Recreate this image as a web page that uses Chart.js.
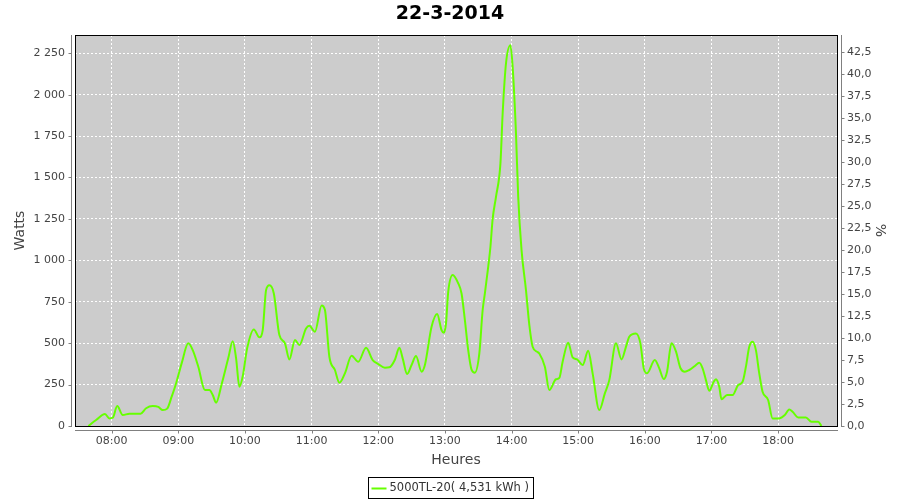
<!DOCTYPE html>
<html>
<head>
<meta charset="utf-8">
<title>22-3-2014</title>
<script src="https://cdn.jsdelivr.net/npm/chart.js@4/dist/chart.umd.min.js"></script>
<style>
  body { margin: 0; background: #fff; }
  #graphe { display: block; }
</style>
</head>
<body>
<canvas id="graphe" width="900" height="500"></canvas>
<script>
// Donnees
var titre = '22-3-2014';
var serieNom = '5000TL-20( 4,531 kWh )';

var heures = ['07:39','07:46','07:54','07:58','08:01','08:05','08:10','08:16','08:26','08:31',
  '08:37','08:42','08:46','08:50','08:54','08:58','09:03','09:09','09:13','09:18',
  '09:24','09:28','09:31','09:34','09:39','09:45','09:49','09:52','09:55','09:58',
  '10:02','10:08','10:13','10:16','10:19','10:22','10:26','10:31','10:36','10:40',
  '10:45','10:49','10:55','10:58','11:03','11:09','11:12','11:16','11:21','11:25',
  '11:30','11:36','11:42','11:49','11:55','12:00','12:06','12:10','12:15','12:19',
  '12:22','12:26','12:30','12:34','12:39','12:42','12:48','12:53','12:57','12:59',
  '13:01','13:03','13:07','13:12','13:15','13:18','13:21','13:24','13:27','13:31',
  '13:34','13:36','13:39','13:41','13:43','13:46','13:50','13:52','13:55','13:59',
  '14:01','14:04','14:06','14:09','14:13','14:16','14:19','14:23','14:25','14:30',
  '14:34','14:40','14:43','14:46','14:51','14:55','14:59','15:04','15:09','15:13',
  '15:19','15:24','15:28','15:34','15:39','15:43','15:46','15:52','15:56','15:59',
  '16:02','16:09','16:13','16:17','16:20','16:24','16:28','16:32','16:36','16:40',
  '16:45','16:49','16:52','16:55','16:58','17:02','17:04','17:07','17:09','17:14',
  '17:19','17:24','17:28','17:31','17:34','17:37','17:40','17:43','17:46','17:51',
  '17:55','18:01','18:06','18:10','18:13','18:18','18:25','18:30','18:36','18:39'];

var watts = [0, 36, 72, 46, 50, 120, 66, 74, 74, 107,
  120, 115, 96, 105, 177, 257, 378, 499, 458, 358,
  217, 217, 187, 141, 252, 410, 511, 410, 237, 300,
  470, 583, 535, 579, 820, 849, 800, 549, 499, 402,
  519, 489, 589, 605, 569, 728, 700, 418, 338, 261,
  318, 424, 388, 472, 398, 374, 352, 354, 400, 472,
  408, 314, 368, 422, 328, 368, 599, 676, 579, 563,
  620, 810, 911, 861, 800, 639, 458, 340, 322, 438,
  700, 800, 961, 1082, 1250, 1383, 1585, 1886, 2188, 2298,
  2167, 1766, 1383, 1062, 820, 610, 478, 448, 438, 358,
  217, 282, 290, 388, 503, 414, 402, 368, 454, 318,
  96, 197, 277, 499, 402, 478, 539, 559, 499, 348,
  318, 398, 348, 283, 328, 499, 450, 350, 328, 338,
  362, 382, 348, 277, 213, 267, 282, 237, 161, 187,
  187, 247, 267, 358, 478, 509, 458, 318, 207, 157,
  46, 46, 66, 100, 86, 52, 52, 26, 26, 0];

var ticksHeures = ['08:00','09:00','10:00','11:00','12:00','13:00','14:00','15:00','16:00','17:00','18:00'];
var ticksWatts = [0, 250, 500, 750, 1000, 1250, 1500, 1750, 2000, 2250];
var ticksPct = [0, 2.5, 5, 7.5, 10, 12.5, 15, 17.5, 20, 22.5, 25, 27.5, 30, 32.5, 35, 37.5, 40, 42.5];

var debut = '07:27', fin = '18:53';
var maxWatts = 2360, maxPct = 44.4;

var vert = '#66ff00';
var gris = '#444444';
var police = '"DejaVu Sans", sans-serif';

function enMinutes(h) {
    var p = h.split(':');
    return parseInt(p[0], 10) * 60 + parseInt(p[1], 10);
}
function enHeure(m) {
    var h = Math.floor(m / 60), mn = Math.round(m % 60);
    return (h < 10 ? '0' : '') + h + ':' + (mn < 10 ? '0' : '') + mn;
}

var points = heures.map(function(h, i) {
    return { x: enMinutes(h), y: watts[i] };
});

// Fond gris, cadre, axes decales et legende facon JFreeChart
var decor = {
    id: 'decor',
    beforeDraw: function(chart) {
        var a = chart.chartArea, ctx = chart.ctx;
        ctx.save();
        ctx.fillStyle = '#ffffff';
        ctx.fillRect(0, 0, chart.width, chart.height);
        ctx.fillStyle = '#cccccc';
        ctx.fillRect(a.left, a.top, a.right - a.left, a.bottom - a.top);
        ctx.restore();
    },
    afterDraw: function(chart) {
        var a = chart.chartArea, ctx = chart.ctx;
        var sx = chart.scales.x, sy = chart.scales.y, sp = chart.scales.y1;
        ctx.save();
        ctx.lineWidth = 1;
        ctx.strokeStyle = '#000000';
        ctx.strokeRect(Math.round(a.left) + 0.5, Math.round(a.top) + 0.5,
            Math.round(a.right - a.left), Math.round(a.bottom - a.top));

        ctx.strokeStyle = '#808080';
        ctx.beginPath();
        var xg = Math.round(a.left) - 3.5;
        ctx.moveTo(xg, a.top); ctx.lineTo(xg, a.bottom + 1);
        sy.ticks.forEach(function(t) {
            var y = Math.round(sy.getPixelForValue(t.value)) + 0.5;
            ctx.moveTo(xg - 3, y); ctx.lineTo(xg, y);
        });
        var xd = Math.round(a.right) + 4.5;
        ctx.moveTo(xd, a.top); ctx.lineTo(xd, a.bottom + 1);
        sp.ticks.forEach(function(t) {
            var y = Math.round(sp.getPixelForValue(t.value)) + 0.5;
            ctx.moveTo(xd, y); ctx.lineTo(xd + 3, y);
        });
        var yb = Math.round(a.bottom) + 4.5;
        ctx.moveTo(a.left, yb); ctx.lineTo(a.right + 1, yb);
        sx.ticks.forEach(function(t) {
            var x = Math.round(sx.getPixelForValue(t.value)) + 0.5;
            ctx.moveTo(x, yb); ctx.lineTo(x, yb + 3);
        });
        ctx.stroke();

        // legende
        ctx.font = '11.5px ' + police;
        var tw = ctx.measureText(serieNom).width;
        var bw = Math.round(tw + 26);
        var bx = Math.round((chart.width - bw) / 2) + 0.5;
        var by = 477.5, bh = 21;
        ctx.strokeStyle = '#000000';
        ctx.strokeRect(bx, by, bw, bh);
        ctx.strokeStyle = vert;
        ctx.lineWidth = 2;
        ctx.beginPath();
        ctx.moveTo(bx + 3, by + 11); ctx.lineTo(bx + 18, by + 11);
        ctx.stroke();
        ctx.fillStyle = '#333333';
        ctx.textBaseline = 'middle';
        ctx.fillText(serieNom, bx + 21, by + 11);
        ctx.restore();
    }
};

new Chart(document.getElementById('graphe'), {
    type: 'line',
    data: {
        datasets: [{
            label: serieNom,
            data: points,
            yAxisID: 'y',
            borderColor: vert,
            borderWidth: 2,
            pointRadius: 0,
            fill: false,
            cubicInterpolationMode: 'monotone'
        }]
    },
    options: {
        responsive: false,
        animation: false,
        devicePixelRatio: 1,
        layout: { padding: { left: 0, right: 0, top: 0, bottom: 30 } },
        plugins: {
            legend: { display: false },
            tooltip: { enabled: false },
            title: {
                display: true,
                text: titre,
                color: '#000000',
                font: { family: police, size: 19, weight: 'bold' },
                padding: { top: 3, bottom: 9.2 }
            }
        },
        scales: {
            x: {
                type: 'linear',
                min: enMinutes(debut),
                max: enMinutes(fin),
                afterFit: function(s) { s.height = 44; },
                afterBuildTicks: function(s) {
                    s.ticks = ticksHeures.map(function(h) { return { value: enMinutes(h) }; });
                },
                ticks: {
                    color: gris,
                    font: { family: police, size: 11 },
                    padding: 9,
                    maxRotation: 0,
                    autoSkip: false,
                    callback: function(v) { return enHeure(v); }
                },
                grid: { color: '#ffffff', drawTicks: false },
                border: { display: false, dash: [2, 2] },
                title: {
                    display: true,
                    text: 'Heures',
                    color: gris,
                    font: { family: police, size: 14 },
                    padding: { top: 0, bottom: 1 }
                }
            },
            y: {
                position: 'left',
                min: 0,
                max: maxWatts,
                afterFit: function(s) { s.width = 75; },
                afterBuildTicks: function(s) {
                    s.ticks = ticksWatts.map(function(v) { return { value: v }; });
                },
                ticks: {
                    color: gris,
                    font: { family: police, size: 11 },
                    padding: 10,
                    callback: function(v) { return String(v).replace(/\B(?=(\d{3})+(?!\d))/g, ' '); }
                },
                grid: { color: '#ffffff', drawTicks: false },
                border: { display: false, dash: [2, 2] },
                title: {
                    display: true,
                    text: 'Watts',
                    color: gris,
                    font: { family: police, size: 14 },
                    padding: { top: 12, bottom: 0 }
                }
            },
            y1: {
                position: 'right',
                min: 0,
                max: maxPct,
                afterFit: function(s) { s.width = 63; },
                afterBuildTicks: function(s) {
                    s.ticks = ticksPct.map(function(v) { return { value: v }; });
                },
                ticks: {
                    color: gris,
                    font: { family: police, size: 11 },
                    padding: 10,
                    callback: function(v) { return v.toFixed(1).replace('.', ','); }
                },
                grid: { display: false, drawTicks: false },
                border: { display: false },
                title: {
                    display: true,
                    text: '%',
                    color: gris,
                    font: { family: police, size: 14 },
                    padding: { top: 12, bottom: 0 }
                }
            }
        }
    },
    plugins: [decor]
});
</script>
</body>
</html>
